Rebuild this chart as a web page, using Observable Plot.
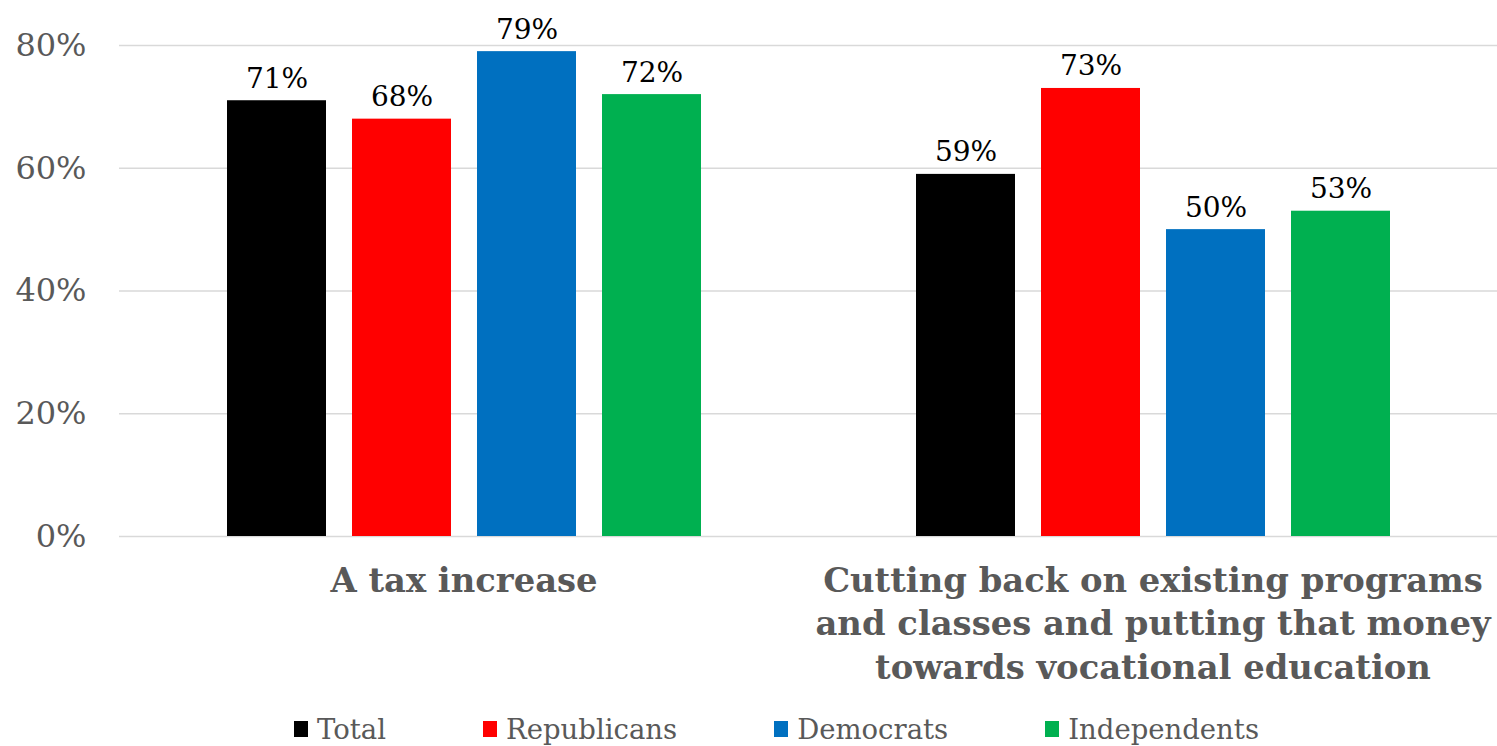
<!DOCTYPE html>
<html>
<head>
<meta charset="utf-8">
<script src="https://cdn.jsdelivr.net/npm/d3@7"></script>
<script src="https://cdn.jsdelivr.net/npm/@observablehq/plot@0.6"></script>
<style>
  html, body { margin: 0; padding: 0; background: #fff; }
  #chart { width: 1497px; height: 746px; position: relative; overflow: hidden; }
  .legend { position: absolute; left: 0; top: 709px; height: 40px; width: 1497px; display: flex; align-items: center;
    padding-left: 294px; box-sizing: border-box; gap: 97px;
    font-family: Georgia, "DejaVu Serif", serif; font-size: 27.5px; color: #595959; }
  .legend .item { display: flex; align-items: center; }
  .legend .sw { width: 14px; height: 16px; margin-right: 9px; display: inline-block; }
</style>
</head>
<body>
<div id="chart"></div>
<script>
const categories = ["A tax increase", "Cutting back on existing programs and classes and putting that money towards vocational education"];
const categoryLabels = ["A tax increase", "Cutting back on existing programs\nand classes and putting that money\ntowards vocational education"];
const groups = ["Total", "Republicans", "Democrats", "Independents"];
const taxIncrease = [71, 68, 79, 72];
const cuttingBack = [59, 73, 50, 53];
const colors = ["#000000", "#FF0000", "#0070C0", "#00B050"];
const yTicks = [0, 20, 40, 60, 80];

const seriesByCategory = [taxIncrease, cuttingBack];
const data = categories.flatMap((c, i) => groups.map((g, j) => ({category: c, group: g, value: seriesByCategory[i][j]})));
const labelOf = new Map(categories.map((c, i) => [c, categoryLabels[i]]));

const font = "Georgia, 'DejaVu Serif', serif";

const svg = Plot.plot({
  width: 1497,
  height: 706,
  marginLeft: 118,
  marginRight: 0,
  marginTop: 45,
  marginBottom: 170,
  style: {fontFamily: font, background: "white", overflow: "visible"},
  fx: {domain: categories, padding: 0, label: null},
  x: {domain: groups, paddingInner: 0.21, paddingOuter: 0.85, axis: null},
  y: {domain: [0, 80], label: null},
  color: {domain: groups, range: colors},
  marks: [
    Plot.gridY(yTicks, {stroke: "#d9d9d9", strokeOpacity: 1, strokeWidth: 1.5}),
    Plot.axisY(yTicks, {tickSize: 0, tickPadding: 33, fontSize: 32, fill: "#595959", tickFormat: d => d + "%", label: null}),
    Plot.barY(data, {fx: "category", x: "group", y: "value", fill: "group"}),
    Plot.text(data, {fx: "category", x: "group", y: "value", text: d => d.value + "%", dy: -13, lineAnchor: "bottom", fontSize: 28, fill: "black"}),
    Plot.axisFx({anchor: "bottom", tickSize: 0, tickPadding: 25, fontSize: 33.8, fontWeight: "bold", fill: "#595959", lineHeight: 1.28, tickFormat: c => labelOf.get(c), label: null})
  ]
});

const chart = document.getElementById("chart");
chart.appendChild(svg);

const legend = document.createElement("div");
legend.className = "legend";
groups.forEach((g, i) => {
  const item = document.createElement("div");
  item.className = "item";
  const sw = document.createElement("span");
  sw.className = "sw";
  sw.style.background = colors[i];
  const t = document.createElement("span");
  t.textContent = g;
  item.appendChild(sw);
  item.appendChild(t);
  legend.appendChild(item);
});
chart.appendChild(legend);
</script>
</body>
</html>
